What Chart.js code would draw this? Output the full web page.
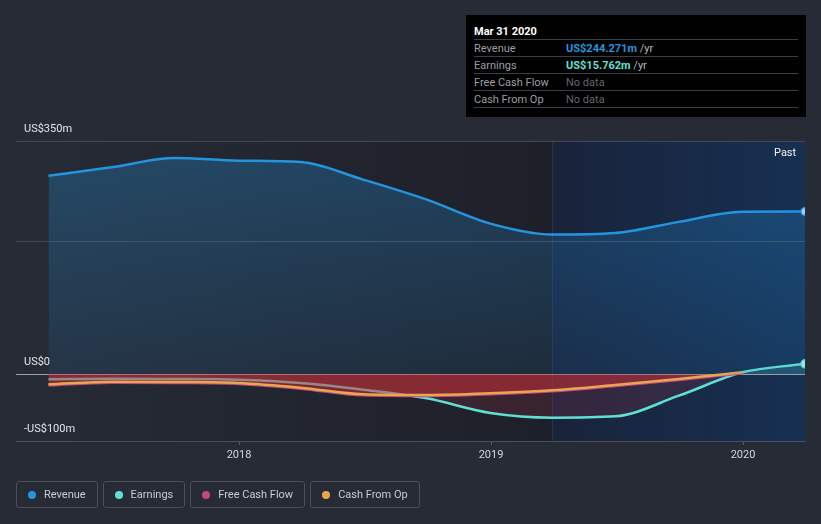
<!DOCTYPE html>
<html>
<head>
<meta charset="utf-8">
<script src="https://cdn.jsdelivr.net/npm/chart.js@4.4.1/dist/chart.umd.min.js"></script>
<style>
    body { margin: 0; background: #262b36; font-family: Roboto, "Noto Sans", sans-serif; }
    #wrap { position: relative; width: 821px; height: 524px; overflow: hidden; }
    #chart { position: absolute; left: 0; top: 0; }
    .tip { position: absolute; left: 466px; top: 15px; width: 340px; height: 102px; background: #000; box-sizing: border-box; padding: 0 8px; font-size: 11px; }
    .tip .title { height: 25px; line-height: 14px; padding-top: 10px; box-sizing: border-box; color: #fff; font-weight: bold; border-bottom: 1px solid #3b3e45; }
    .tip .row { display: flex; height: 17px; line-height: 17px; box-sizing: border-box; border-bottom: 1px solid #3b3e45; }
    .tip .lbl { width: 92px; color: #9b9ea5; }
    .tip .val { font-weight: bold; }
    .tip .unit { color: #b5b8be; font-weight: normal; }
    .tip .none { color: #62666e; }
    .past { position: absolute; left: 774px; top: 146px; color: #f2f2f2; font-size: 11px; }
    .legend { position: absolute; left: 16px; top: 481px; display: flex; gap: 5px; }
    .legend .item { display: flex; align-items: center; height: 27px; box-sizing: border-box; padding: 0 11px 0 11px; border: 1px solid #4a4f5a; border-radius: 3px; color: #c9ccd2; font-size: 11px; }
    .legend .dot { width: 8px; height: 8px; border-radius: 50%; margin-right: 8px; }
</style>
</head>
<body>
<div id="wrap">
    <canvas id="chart" width="821" height="524"></canvas>
    <div class="tip">
        <div class="title">Mar 31 2020</div>
        <div class="row"><span class="lbl">Revenue</span><span class="val" style="color:#2394df">US$244.271m <span class="unit">/yr</span></span></div>
        <div class="row"><span class="lbl">Earnings</span><span class="val" style="color:#5fe0d4">US$15.762m <span class="unit">/yr</span></span></div>
        <div class="row"><span class="lbl">Free Cash Flow</span><span class="none">No data</span></div>
        <div class="row"><span class="lbl">Cash From Op</span><span class="none">No data</span></div>
    </div>
    <div class="past">Past</div>
    <div class="legend">
        <div class="item"><span class="dot" style="background:#2394df"></span>Revenue</div>
        <div class="item"><span class="dot" style="background:#5fe0d4"></span>Earnings</div>
        <div class="item"><span class="dot" style="background:#c4467f"></span>Free Cash Flow</div>
        <div class="item"><span class="dot" style="background:#e9a650"></span>Cash From Op</div>
    </div>
</div>
<script>
// Quarterly trailing-twelve-month figures, US$ millions
const quarterEnds = ['2017-03-31', '2017-06-30', '2017-09-30', '2017-12-31',
    '2018-03-31', '2018-06-30', '2018-09-30', '2018-12-31',
    '2019-03-31', '2019-06-30', '2019-09-30', '2019-12-31', '2020-03-31'];
const revenue = [298, 310.5, 324.5, 320.5, 318.5, 292, 262, 226, 209.7, 212, 228.7, 244, 244.271];
const earnings = [-7.5, -6.5, -7, -8, -13, -23, -36, -58, -65, -63, -32, 3, 15.762];
const freeCashFlow = [-16.5, -12.5, -13, -14.5, -21.5, -31.5, -32.5, -30, -25.5, -17.5, -8.5, 1.5];
const cashFromOp = [-15, -11, -11.5, -13, -20, -30, -31, -28.5, -24, -16, -7, 3];

const yTicks = [-100, 0, 200, 350];
const yTickLabels = { '-100': '-US$100m', '0': 'US$0', '350': 'US$350m' };
const xTicks = [2018, 2019, 2020];
const pastStart = '2019-03-31';

function toYear(s) {
    const d = new Date(s + 'T00:00:00Z');
    const y = d.getUTCFullYear();
    const start = Date.UTC(y, 0, 1), end = Date.UTC(y + 1, 0, 1);
    return y + (d - start) / (end - start);
}

function points(values) {
    return values.map((v, i) => ({ x: toYear(quarterEnds[i]), y: v }));
}

function lastPointRadius(ctx) {
    return ctx.dataIndex === ctx.dataset.data.length - 1 ? 4 : 0;
}

// Shaded chart background and the highlighted "Past" band
const bandPlugin = {
    id: 'band',
    beforeDraw(chart) {
        const { ctx, chartArea: a, scales: { x } } = chart;
        const bx = x.getPixelForValue(toYear(pastStart));
        ctx.save();
        let g = ctx.createLinearGradient(a.left, 0, bx, 0);
        g.addColorStop(0, '#262b36');
        g.addColorStop(1, '#1e2029');
        ctx.fillStyle = g;
        ctx.fillRect(a.left, a.top, bx - a.left, a.bottom - a.top);
        g = ctx.createLinearGradient(bx, 0, a.right, 0);
        g.addColorStop(0, '#19233a');
        g.addColorStop(1, '#163052');
        ctx.fillStyle = g;
        ctx.fillRect(bx, a.top, a.right - bx, a.bottom - a.top);
        ctx.fillStyle = 'rgba(60,90,130,0.3)';
        ctx.fillRect(Math.round(bx), a.top, 1, a.bottom - a.top);
        ctx.restore();
    }
};

const ctx = document.getElementById('chart');
new Chart(ctx, {
    type: 'line',
    data: {
        datasets: [{
            label: 'Revenue',
            data: points(revenue),
            borderColor: '#2394df',
            borderWidth: 2.5,
            fill: 'origin',
            backgroundColor: function(c) {
                const chart = c.chart;
                const area = chart.chartArea;
                if (!area) return 'rgba(35,148,223,0.2)';
                const g = chart.ctx.createLinearGradient(0, area.top, 0, chart.scales.y.getPixelForValue(0));
                g.addColorStop(0, 'rgba(35,148,223,0.3)');
                g.addColorStop(1, 'rgba(35,148,223,0.1)');
                return g;
            },
            cubicInterpolationMode: 'monotone',
            pointRadius: lastPointRadius,
            pointBackgroundColor: '#9fd0f4',
            pointBorderColor: '#2394df',
            pointBorderWidth: 1.5,
            order: 0
        }, {
            label: 'Cash From Op',
            data: points(cashFromOp),
            borderColor: '#e9a650',
            borderWidth: 2.5,
            fill: false,
            cubicInterpolationMode: 'monotone',
            pointRadius: 0,
            order: 1
        }, {
            label: 'Free Cash Flow',
            data: points(freeCashFlow),
            borderColor: '#c4467f',
            borderWidth: 2.5,
            fill: { target: 'origin', above: 'rgba(210,45,55,0.5)', below: 'rgba(210,45,55,0.5)' },
            cubicInterpolationMode: 'monotone',
            pointRadius: 0,
            order: 2
        }, {
            label: 'Earnings',
            data: points(earnings),
            borderColor: '#5fe0d4',
            borderWidth: 2.5,
            fill: { target: 'origin', above: 'rgba(95,224,212,0.18)', below: 'rgba(200,55,75,0.16)' },
            cubicInterpolationMode: 'monotone',
            pointRadius: lastPointRadius,
            pointBackgroundColor: '#a8f0ea',
            pointBorderColor: '#5fe0d4',
            pointBorderWidth: 1.5,
            order: 3
        }]
    },
    options: {
        responsive: false,
        animation: false,
        layout: { padding: { left: 16, right: 16, top: 141, bottom: 53 } },
        plugins: {
            legend: { display: false },
            tooltip: { enabled: false }
        },
        scales: {
            x: {
                type: 'linear',
                min: 2017.115,
                max: toYear('2020-03-31'),
                afterBuildTicks: s => { s.ticks = xTicks.map(v => ({ value: v })); },
                afterFit: s => { s.height = 30; },
                grid: { drawOnChartArea: false, drawTicks: true, tickLength: 4, tickColor: '#555b66' },
                border: { display: true, color: '#4a4f5a' },
                ticks: {
                    color: '#d4d6da',
                    font: { family: 'Roboto', size: 11 },
                    padding: 4,
                    maxRotation: 0,
                    callback: v => String(v)
                }
            },
            y: {
                min: -100,
                max: 350,
                afterBuildTicks: s => { s.ticks = yTicks.map(v => ({ value: v })); },
                afterFit: s => { s.width = 0; },
                grid: {
                    drawTicks: false,
                    color: c => (c.tick && c.tick.value === 0) ? '#9da1aa' : '#434855'
                },
                border: { display: false },
                ticks: {
                    mirror: true,
                    padding: 8,
                    labelOffset: -12,
                    color: '#e4e5e8',
                    font: { family: 'Roboto', size: 11 },
                    callback: v => yTickLabels[String(v)] || ''
                }
            }
        }
    },
    plugins: [bandPlugin]
});
</script>
</body>
</html>
